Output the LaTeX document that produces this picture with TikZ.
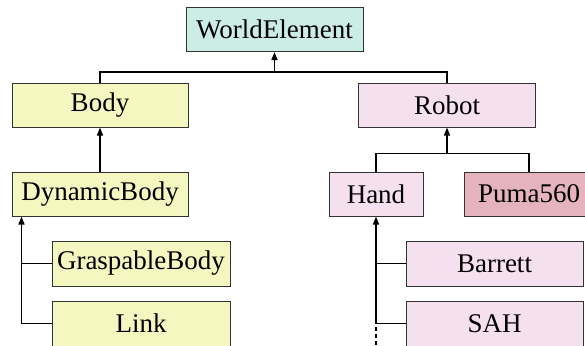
\documentclass[tikz,border=0pt]{standalone}
\usepackage{fontspec}
\setmainfont{Liberation Serif}
\usetikzlibrary{arrows.meta, positioning, calc}
\definecolor{worldfill}{HTML}{CCEDE5}
\definecolor{bodyfill}{HTML}{F4F7BF}
\definecolor{robotfill}{HTML}{F5E0F0}
\definecolor{pumafill}{HTML}{E5B3BE}
\tikzset{
  cls/.style={draw=black!80, line width=1pt, fill=#1, minimum height=44pt, minimum width=177pt,
    inner sep=0pt, font=\fontsize{27}{32}\selectfont},
  arr/.style={-{Triangle[length=8pt, width=6pt]}, line width=1.5pt},
  link/.style={line width=1.5pt},
}

\begin{document}
\begin{tikzpicture}[x=1pt, y=1pt]
    \useasboundingbox (0,0) rectangle (585,-345);
    \node[cls=worldfill] (world) at (274.5,-29.5) {WorldElement};
    \node[cls=bodyfill, minimum width=176pt] (body) at (100,-105) {Body};
    \node[cls=robotfill] (robot) at (447,-105) {Robot};
    \node[cls=bodyfill, minimum width=176pt] (dyn) at (100,-194) {DynamicBody};
    \node[cls=bodyfill, minimum width=178pt, minimum height=45pt] (grasp) at (141,-263.5) {GraspableBody};
    \node[cls=bodyfill, minimum width=178pt, minimum height=45pt] (link1) at (141,-323.5) {Link};
    \node[cls=robotfill, minimum width=94pt] (hand) at (376,-194) {Hand};
    \node[cls=pumafill, minimum width=130pt] (puma) at (529,-194) {Puma560};
    \node[cls=robotfill, minimum height=45pt] (barrett) at (494.5,-263.5) {Barrett};
    \node[cls=robotfill, minimum height=45pt] (sah) at (494.5,-323.5) {SAH};
    % buses
    \coordinate (topbus) at ($(world.south)+(0,-20)$);
    \coordinate (robotbus) at ($(robot.south)+(0,-26)$);
    \coordinate (dynfoot) at ([xshift=10pt]dyn.south west);
    \draw[link] (body.north) |- (topbus) -| (robot.north);
    \draw[arr] (topbus) -- (world.south);
    \draw[arr] (dyn.north) -- (body.south);
    \draw[link] (hand.north) |- (robotbus) -| (puma.north);
    \draw[arr] (robotbus) -- (robot.south);
    \draw[arr] (link1.west) -| (dynfoot);
    \draw[link] (grasp.west) -- (grasp.west -| dynfoot);
    \draw[arr] (sah.west) -| (hand.south);
    \draw[link] (barrett.west) -- (barrett.west -| hand.south);
    \draw[line width=1.4pt, dash pattern=on 4pt off 3pt] ([yshift=-3pt]sah.west -| hand.south) -- ++(0,-25);
  \end{tikzpicture}
\end{document}
